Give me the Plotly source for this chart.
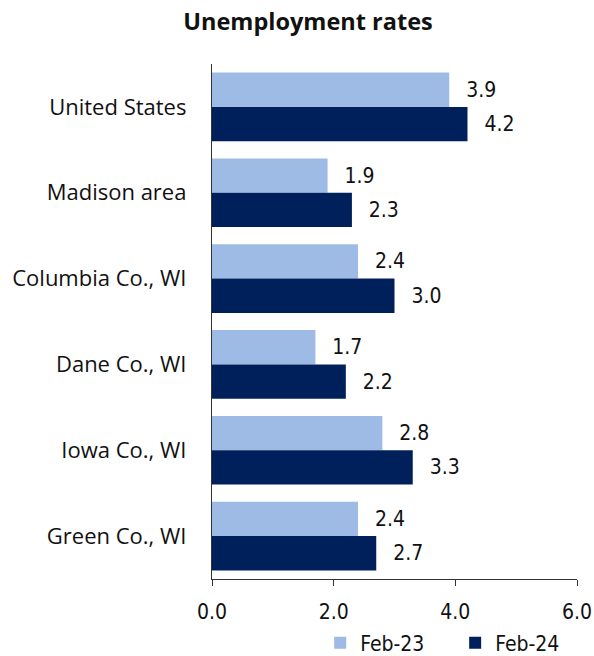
import plotly.graph_objects as go

categories = ["United States", "Madison area", "Columbia Co., WI", "Dane Co., WI", "Iowa Co., WI", "Green Co., WI"]
feb23 = [3.9, 1.9, 2.4, 1.7, 2.8, 2.4]
feb24 = [4.2, 2.3, 3.0, 2.2, 3.3, 2.7]
x_ticks = [0, 2, 4, 6]
x_tick_labels = ["0.0", "2.0", "4.0", "6.0"]

NUMFONT = "DejaVu Sans Condensed, DejaVu Sans"
CATFONT = "Open Sans"
PAD = "  \u200a"

fig = go.Figure()
for name, vals, color in [("Feb-23", feb23, "#9DBBE5"), ("Feb-24", feb24, "#00205C")]:
    fig.add_trace(go.Bar(y=categories, x=vals, orientation="h", name=name,
                         marker=dict(color=color, line=dict(width=0)),
                         text=[f"{v:.1f}" for v in vals], texttemplate=PAD + "%{text}",
                         textposition="outside", cliponaxis=False,
                         textfont=dict(size=21, color="#111", family=NUMFONT)))

fig.update_layout(
    width=594, height=656,
    paper_bgcolor="white", plot_bgcolor="white",
    margin=dict(l=212, r=17, t=64, b=77, autoexpand=False),
    barmode="group", bargap=0.2, bargroupgap=0,
    title=dict(text="<b>Unemployment rates</b>", x=0.5185, xanchor="center", xref="container",
               y=0.9665, yanchor="middle", yref="container",
               font=dict(size=23.5, family=CATFONT, color="#111")),
    font=dict(family=NUMFONT, size=21, color="#111"),
    showlegend=True,
    legend=dict(orientation="h", xref="container", yref="container",
                x=0.539, xanchor="left", y=0.0198, yanchor="middle",
                font=dict(size=21, family=NUMFONT, color="#111"),
                entrywidth=90, entrywidthmode="pixels",
                traceorder="normal", bgcolor="rgba(0,0,0,0)"),
    xaxis=dict(range=[0, 6], tickvals=x_ticks, ticktext=x_tick_labels,
               showgrid=False, zeroline=False, showline=True, linecolor="#333",
               linewidth=1.3, ticks="outside", ticklen=6, tickcolor="#333",
               ticklabelstandoff=8, automargin=False,
               tickfont=dict(size=21, family=NUMFONT, color="#111")),
    xaxis2=dict(range=[0, 6], overlaying="x", anchor="y", side="bottom",
                tickvals=x_ticks, showticklabels=False, showgrid=False,
                zeroline=False, ticks="inside", ticklen=7, tickcolor="#333",
                showline=False, automargin=False),
    yaxis=dict(autorange="reversed", showgrid=False, zeroline=False,
               showline=True, linecolor="#333", linewidth=1.3, ticks="",
               ticklabelstandoff=20, automargin=False,
               tickfont=dict(size=22, family=CATFONT, color="#111")),
)
fig.write_html("out.html", config={"displayModeBar": False},
               post_script="document.body.style.margin='0';")
